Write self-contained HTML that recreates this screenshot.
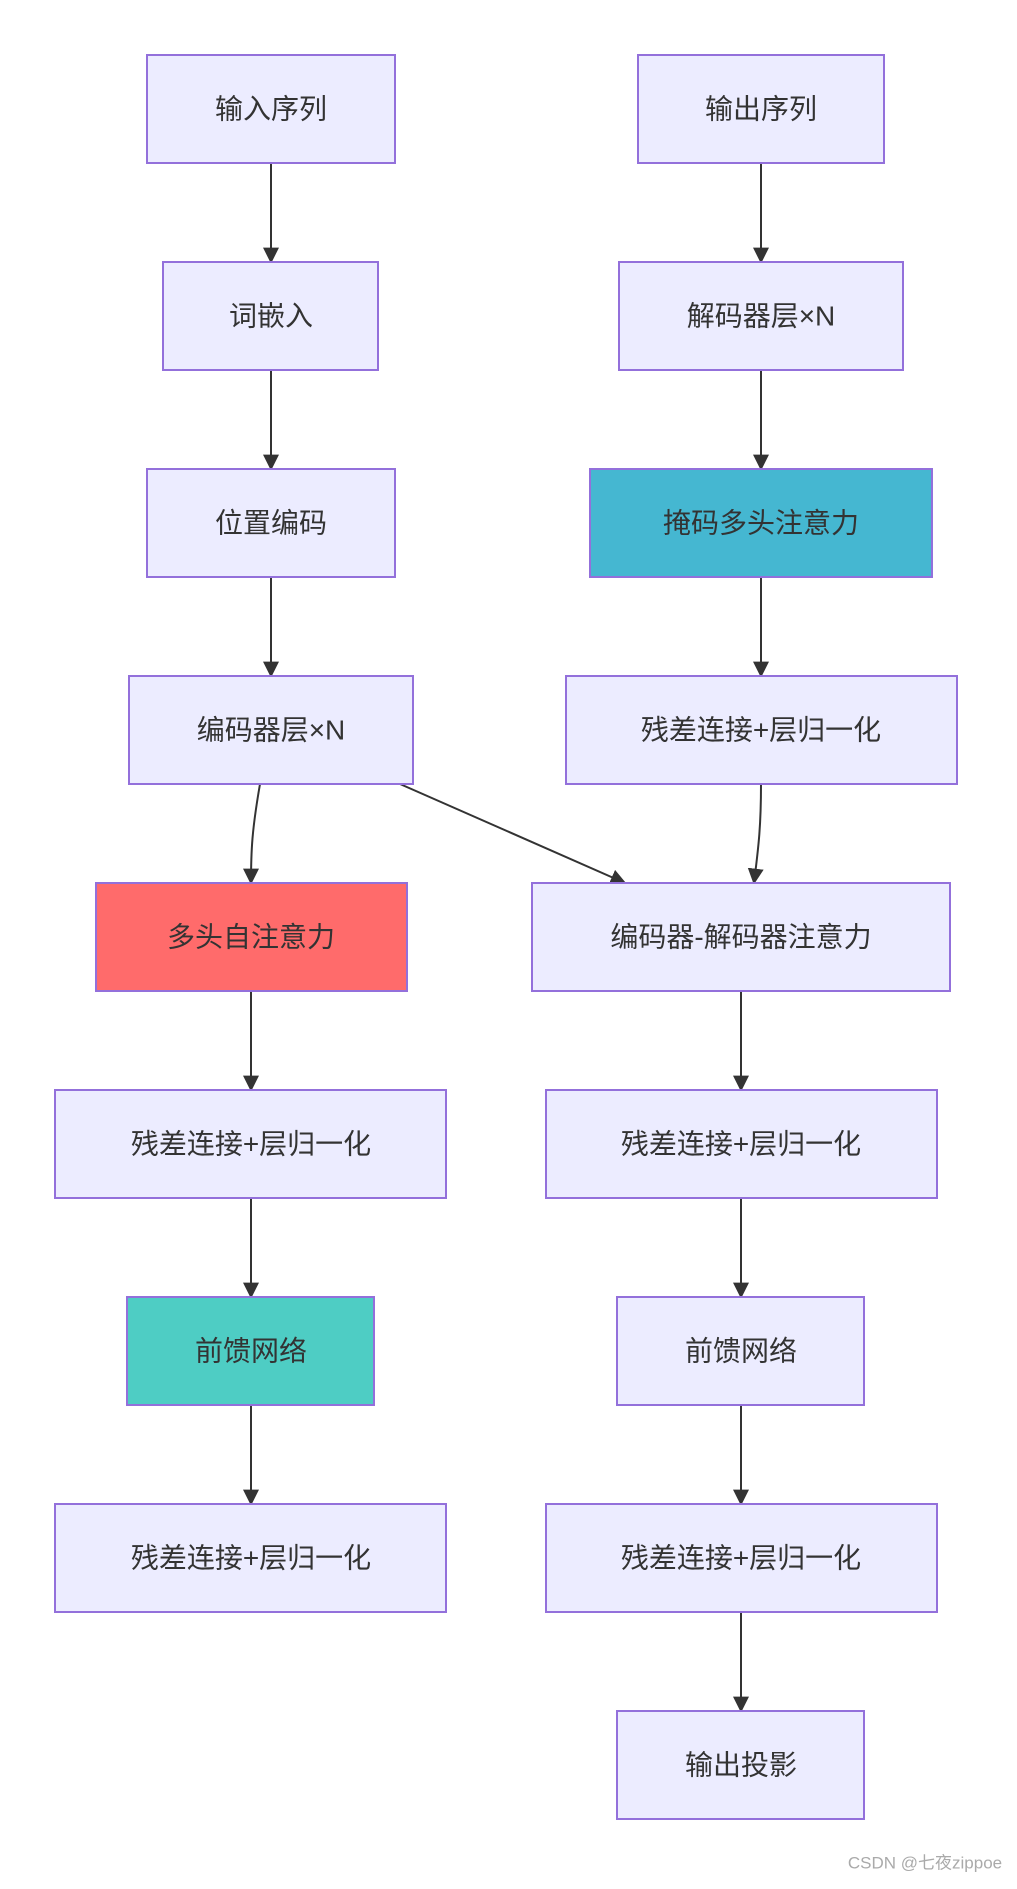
<!DOCTYPE html>
<html><head><meta charset="utf-8"><style>
body{margin:0;background:#fff;}
svg text{font-family:"Liberation Sans","Noto Sans CJK SC",sans-serif;font-size:28px;fill:#333;text-anchor:middle;dominant-baseline:central;}
</style></head><body>
<svg width="1017" height="1884" viewBox="0 0 1017 1884" xmlns="http://www.w3.org/2000/svg">
<defs><marker id="a" viewBox="0 0 10 10" refX="9" refY="5" markerWidth="8" markerHeight="8" orient="auto"><path d="M0,0L10,5L0,10z" fill="#333"/></marker></defs>
<g fill="none" stroke="#333" stroke-width="2" marker-end="url(#a)">
<path d="M271,163V262"/><path d="M271,370V469"/><path d="M271,577V676"/>
<path d="M260,784C252,830 251,850 251,883"/>
<path d="M400,784L625,883"/>
<path d="M251,991V1090"/><path d="M251,1198V1297"/><path d="M251,1405V1504"/>
<path d="M761,163V262"/><path d="M761,370V469"/><path d="M761,577V676"/>
<path d="M761,784C761,830 758,850 754,883"/>
<path d="M741,991V1090"/><path d="M741,1198V1297"/><path d="M741,1405V1504"/><path d="M741,1612V1711"/>
</g>
<g stroke="#9370DB" stroke-width="2" fill="#ECECFF">
<rect x="147" y="55" width="248" height="108"/>
<rect x="163" y="262" width="215" height="108"/>
<rect x="147" y="469" width="248" height="108"/>
<rect x="129" y="676" width="284" height="108"/>
<rect x="96" y="883" width="311" height="108" fill="#FF6B6B"/>
<rect x="55" y="1090" width="391" height="108"/>
<rect x="127" y="1297" width="247" height="108" fill="#4ECDC4"/>
<rect x="55" y="1504" width="391" height="108"/>
<rect x="638" y="55" width="246" height="108"/>
<rect x="619" y="262" width="284" height="108"/>
<rect x="590" y="469" width="342" height="108" fill="#45B7D1"/>
<rect x="566" y="676" width="391" height="108"/>
<rect x="532" y="883" width="418" height="108"/>
<rect x="546" y="1090" width="391" height="108"/>
<rect x="617" y="1297" width="247" height="108"/>
<rect x="546" y="1504" width="391" height="108"/>
<rect x="617" y="1711" width="247" height="108"/>
</g>
<text x="271" y="109">输入序列</text>
<text x="271" y="316">词嵌入</text>
<text x="271" y="523">位置编码</text>
<text x="271" y="730">编码器层×N</text>
<text x="251" y="937">多头自注意力</text>
<text x="251" y="1144">残差连接+层归一化</text>
<text x="251" y="1351">前馈网络</text>
<text x="251" y="1558">残差连接+层归一化</text>
<text x="761" y="109">输出序列</text>
<text x="761" y="316">解码器层×N</text>
<text x="761" y="523">掩码多头注意力</text>
<text x="761" y="730">残差连接+层归一化</text>
<text x="741" y="937">编码器-解码器注意力</text>
<text x="741" y="1144">残差连接+层归一化</text>
<text x="741" y="1351">前馈网络</text>
<text x="741" y="1558">残差连接+层归一化</text>
<text x="741" y="1765">输出投影</text>
<text x="925" y="1863" style="font-size:17px;fill:#aaa">CSDN @七夜zippoe</text>
</svg>
</body></html>
